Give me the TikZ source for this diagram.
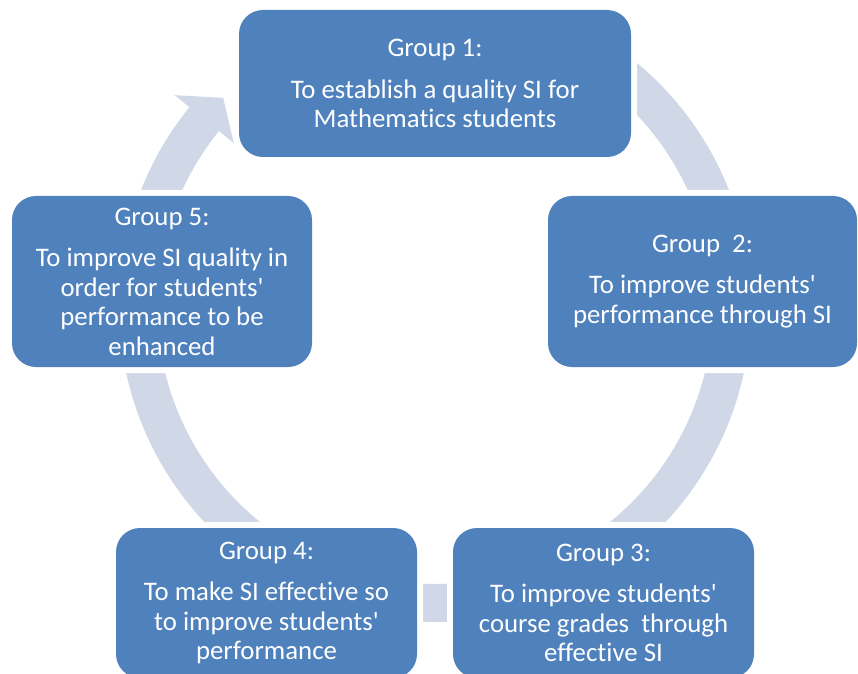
\documentclass[tikz,border=0pt]{standalone}
\usepackage{fontspec}
\newfontfamily\boxfont{Carlito}[Ligatures={NoCommon}]
\definecolor{boxblue}{HTML}{4F81BD}
\definecolor{ringgray}{HTML}{D0D8E8}
\begin{document}
\begin{tikzpicture}[x=1pt,y=1pt,
  stage/.style={rounded corners=24pt, fill=boxblue, text=white, align=center,
    font=\boxfont\fontsize{26.8}{29.5}\selectfont, inner sep=0pt,
    preaction={draw=white, line width=12pt}},
  ringarc/.style={fill=ringgray}]
\useasboundingbox (0,0) rectangle (858,673);
\coordinate (c) at (435,367);

% ring segments of the cycle (drawn first, the stage boxes sit on top)
\fill[ringarc] ([shift={(60:316)}]c) arc[start angle=60, end angle=10, radius=316]
  -- ([shift={(10:278)}]c) arc[start angle=10, end angle=60, radius=278] -- cycle;
\fill[ringarc] ([shift={(-5:316)}]c) arc[start angle=-5, end angle=-60, radius=316]
  -- ([shift={(-60:278)}]c) arc[start angle=-60, end angle=-5, radius=278] -- cycle;
\fill[ringarc] ([shift={(-80:316)}]c) arc[start angle=-80, end angle=-100, radius=316]
  -- ([shift={(-100:278)}]c) arc[start angle=-100, end angle=-80, radius=278] -- cycle;
\fill[ringarc] ([shift={(240:316)}]c) arc[start angle=240, end angle=185, radius=316]
  -- ([shift={(185:278)}]c) arc[start angle=185, end angle=240, radius=278] -- cycle;
% last segment carries the arrow head pointing back to the first stage
\fill[ringarc] ([shift={(175:316)}]c) arc[start angle=175, end angle=141, radius=316]
  -- ([shift={(141:335)}]c) -- ([shift={(135.5:297)}]c) -- ([shift={(141:259)}]c)
  -- ([shift={(141:278)}]c) arc[start angle=141, end angle=175, radius=278] -- cycle;

% stages
\node[stage, minimum width=392pt, minimum height=147pt] (g1) at (435,589.5)
  {Group 1:\\[12pt]To establish a quality SI for\\Mathematics students};
\node[stage, minimum width=309pt, minimum height=171pt] (g2) at (702.5,391.5)
  {Group~~2:\\[12pt]To improve students'\\performance through SI};
\node[stage, minimum width=301pt, minimum height=150pt] (g3) at (603.5,70)
  {Group 3:\\[12pt]To improve students'\\course grades~~through\\effective SI};
\node[stage, minimum width=301pt, minimum height=150pt] (g4) at (266.5,70)
  {Group 4:\\[12pt]To make SI effective so\\to improve students'\\performance};
\node[stage, minimum width=300pt, minimum height=171pt] (g5) at (162,391.5)
  {Group 5:\\[12pt]To improve SI quality in\\order for students'\\performance to be\\enhanced};
\end{tikzpicture}
\end{document}
